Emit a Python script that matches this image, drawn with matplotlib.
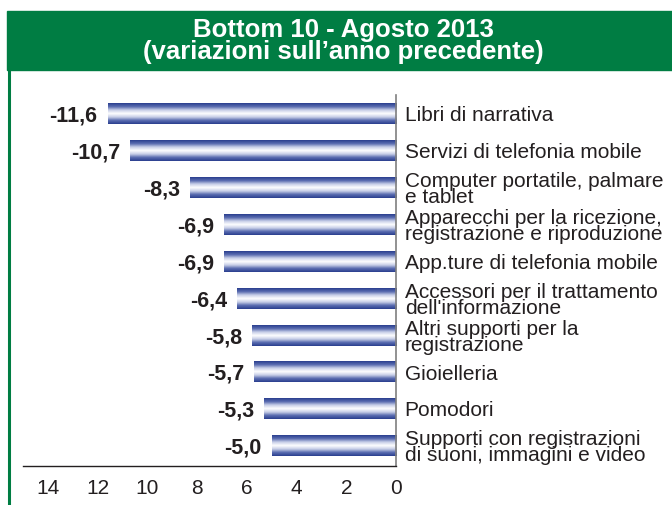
import matplotlib
matplotlib.use("Agg")
import matplotlib.pyplot as plt
import numpy as np
from matplotlib.colors import LinearSegmentedColormap
from matplotlib.patches import Rectangle
from matplotlib.lines import Line2D

plt.rcParams["font.family"] = ["Liberation Sans", "DejaVu Sans"]

title = "Bottom 10 - Agosto 2013\n(variazioni sull\u2019anno precedente)"
categories = [
    "Libri di narrativa",
    "Servizi di telefonia mobile",
    "Computer portatile, palmare\ne tablet",
    "Apparecchi per la ricezione,\nregistrazione e riproduzione",
    "App.ture di telefonia mobile",
    "Accessori per il trattamento\ndell'informazione",
    "Altri supporti per la\nregistrazione",
    "Gioielleria",
    "Pomodori",
    "Supporti con registrazioni\ndi suoni, immagini e video",
]
values = [-11.6, -10.7, -8.3, -6.9, -6.9, -6.4, -5.8, -5.7, -5.3, -5.0]
xticks = [-14, -12, -10, -8, -6, -4, -2, 0]

GREEN = "#007d43"
NAVY = "#2a3f8f"
TXT = "#231f20"

W, H = 672, 506
fig = plt.figure(figsize=(W / 100, H / 100), dpi=100)

# green header band and left rule
fig.patches.append(Rectangle((7 / W, 1 - 71 / H), 1, 59 / H, transform=fig.transFigure,
                             color=GREEN, zorder=0))
fig.lines.append(Line2D([8.5 / W, 8.5 / W], [0, 1 - 70 / H], transform=fig.transFigure,
                        color=GREEN, lw=2.2))
fig.text(343 / W, 1 - 41 / H, title, ha="center", va="center", color="white",
         fontsize=18.5, fontweight="bold", linespacing=0.9)

ax = fig.add_axes([23 / W, 1 - 467 / H, (396 - 23) / W, (467 - 96) / H])
y = np.arange(len(values))
bh = 0.55
bars = ax.barh(y, values, height=bh, color="none", edgecolor="none")

cmap = LinearSegmentedColormap.from_list(
    "stripe", [NAVY, "#5a6cb0", "#c8cfe8", "#ffffff", "#c8cfe8", "#5a6cb0", NAVY])
grad = np.linspace(0, 1, 64).reshape(-1, 1)
for b in bars:
    x0 = b.get_x()
    x1 = x0 + b.get_width()
    y0 = b.get_y()
    y1 = y0 + b.get_height()
    ax.imshow(grad, extent=[min(x0, x1), max(x0, x1), y1, y0], aspect="auto",
              cmap=cmap, interpolation="bilinear", zorder=2)

for i, v in enumerate(values):
    ax.text(v - 0.4, i + 0.03, f"{v:.1f}".replace(".", ","), ha="right", va="center",
            fontsize=15.5, fontweight="bold", color=TXT)
    ax.text(0.35, i + 0.02, categories[i], ha="left", va="center", fontsize=15,
            color=TXT, linespacing=0.8, clip_on=False)

ax.set_xlim(-15, 0)
ax.set_ylim(len(values) - 0.46, -0.52)
ax.set_xticks(xticks)
ax.set_xticklabels([str(abs(t)) for t in xticks], fontsize=15, color=TXT)
ax.tick_params(axis="x", length=0, pad=9)
ax.set_yticks([])
for s in ["top", "left"]:
    ax.spines[s].set_visible(False)
ax.spines["right"].set_color("#7f7f7f")
ax.spines["right"].set_linewidth(1.2)
ax.spines["bottom"].set_color(TXT)
ax.spines["bottom"].set_linewidth(1.0)
ax.patch.set_alpha(0)

fig.savefig("out.png", dpi=100)
